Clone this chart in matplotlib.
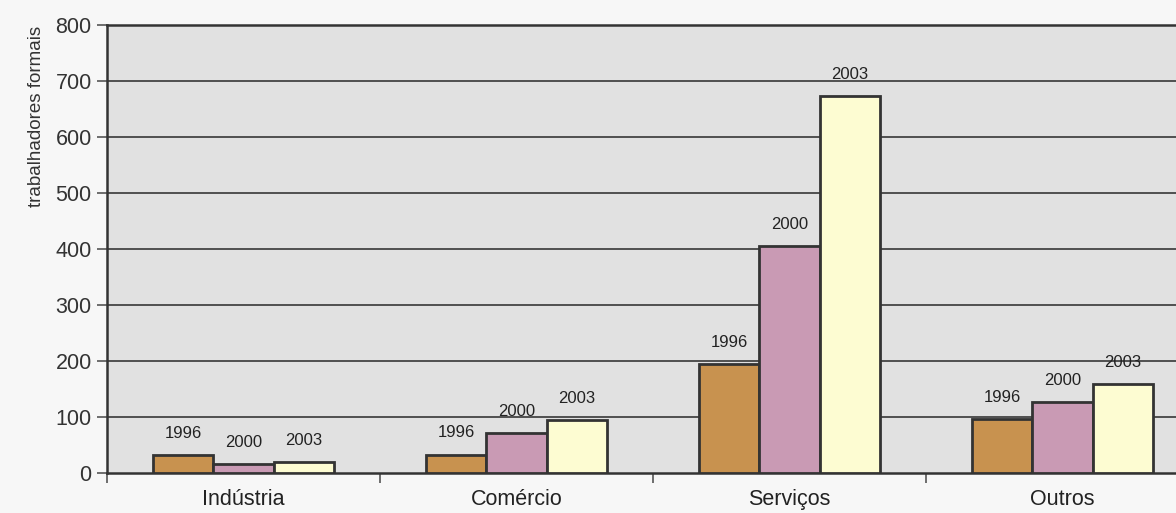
import matplotlib
matplotlib.use("Agg")
import matplotlib.pyplot as plt
import numpy as np

categories = ["Indústria", "Comércio", "Serviços", "Outros"]
years = ["1996", "2000", "2003"]
values_1996 = [32, 33, 194, 97]
values_2000 = [16, 72, 405, 127]
values_2003 = [20, 95, 673, 159]
y_ticks = [0, 100, 200, 300, 400, 500, 600, 700, 800]
y_label = "trabalhadores formais"

colors = ["#c8924f", "#c99ab4", "#fdfcd2"]

plt.rcParams["font.family"] = ["Liberation Sans", "DejaVu Sans"]

W, H = 1176, 513
fig = plt.figure(figsize=(W / 100, H / 100), dpi=100, facecolor="#f7f7f7")
# right edge of the plot runs past the picture (cropped scan)
ax = fig.add_axes([107 / W, 40 / H, (1199 - 107) / W, 448 / H])
ax.set_facecolor("#e1e1e1")

x = np.arange(len(categories)) + 0.5
width = 0.22
series = [values_1996, values_2000, values_2003]
for k, (vals, year, col) in enumerate(zip(series, years, colors)):
    xs = x + (k - 1) * width
    bars = ax.bar(xs, vals, width=width, color=col, edgecolor="#333333",
                  linewidth=2, zorder=3)
    for b, v in zip(bars, vals):
        ax.annotate(year, (b.get_x() + b.get_width() / 2, v),
                    xytext=(0, 15.5), textcoords="offset points",
                    ha="center", va="center", fontsize=12, color="#222222")

ax.set_xlim(0, len(categories))
ax.set_ylim(0, 800)
ax.set_yticks(y_ticks)
ax.set_yticklabels([str(t) for t in y_ticks], fontsize=15.5, color="#333333")
ax.tick_params(axis="y", length=7, width=1.2, color="#555555", pad=4)

ax.set_xticks(np.arange(len(categories) + 1))
ax.set_xticklabels([])
ax.tick_params(axis="x", which="major", length=7, width=1.2, color="#555555")
ax.set_xticks(x, minor=True)
ax.set_xticklabels(categories, minor=True, fontsize=15.5, color="#222222")
ax.tick_params(axis="x", which="minor", length=0, pad=11.5)

for t in y_ticks[1:-1]:
    ax.axhline(t, color="#444444", linewidth=1.3, zorder=1)

for side in ["top", "bottom", "left"]:
    ax.spines[side].set_color("#333333")
    ax.spines[side].set_linewidth(1.8)
ax.spines["right"].set_visible(False)

fig.text(37 / W, 1 - 116 / H, y_label, rotation=90, ha="center", va="center",
         fontsize=13.5, color="#333333")

fig.savefig("out.png", dpi=100, facecolor=fig.get_facecolor())
